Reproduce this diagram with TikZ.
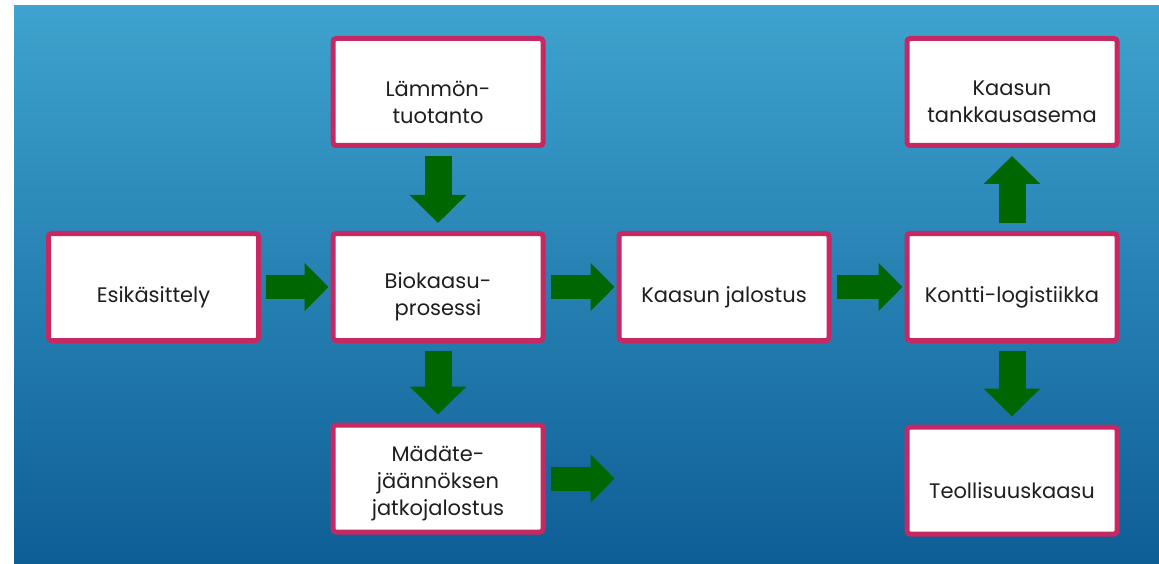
\documentclass[tikz,border=0pt]{standalone}
\usepackage{fontspec}
\setmainfont{Poppins}
\usetikzlibrary{arrows.meta}

\begin{document}
\begin{tikzpicture}[x=1pt, y=-1pt,
    every node/.style={font=\fontsize{21}{27}\selectfont, text=textgray},
    box/.style={draw=boxedge, fill=white, line width=5pt, rounded corners=3pt,
      minimum width=210pt, minimum height=107pt, inner sep=0pt},
    boxtext/.style={yshift=-10pt, align=center},
    flowh/.style={draw=flowgreen, line width=24pt, -{Triangle[length=24pt,width=47pt]},
      shorten <=5pt, shorten >=2pt},
    flowv/.style={draw=flowgreen, line width=27pt, -{Triangle[length=28pt,width=55pt]},
      shorten <=8pt, shorten >=8pt}]
  \definecolor{bgtop}{RGB}{62,163,206}
  \definecolor{bgbottom}{RGB}{14,94,150}
  \definecolor{boxedge}{RGB}{200,40,98}
  \definecolor{flowgreen}{RGB}{0,102,0}
  \definecolor{textgray}{RGB}{30,30,30}
  \useasboundingbox (0,0) rectangle (1159,564);
  \shade[top color=bgtop, bottom color=bgbottom] (14,6) rectangle (1159,564);
  % process chain
  \node[box, label={[boxtext]center:Esikäsittely}] (esik) at (153.5,287) {};
  \node[box, label={[boxtext]center:Biokaasu-\\prosessi}] (bio) at (438,287) {};
  \node[box, label={[boxtext]center:Lämmön-\\tuotanto}] (lammon) at (438,92) {};
  \node[box, label={[boxtext,yshift=5pt]center:Mädäte-\\jäännöksen\\jatkojalostus}] (madate) at (438,478.5) {};
  \node[box, label={[boxtext]center:Kaasun jalostus}] (jalostus) at (724,287) {};
  \node[box, label={[boxtext]center:Kontti-logistiikka}] (kontti) at (1012,287) {};
  \node[box, label={[boxtext]center:Kaasun\\tankkausasema}] (tankkaus) at (1012,92) {};
  \node[box, label={[boxtext]center:Teollisuuskaasu}] (teoll) at (1012,480.5) {};
  \coordinate (madend) at (madate.east -| jalostus.west);
  % flows
  \draw[flowh] (esik) -- (bio);
  \draw[flowh] (bio) -- (jalostus);
  \draw[flowh] (jalostus) -- (kontti);
  \draw[flowh] (madate) -- (madend);
  \draw[flowv] (lammon) -- (bio);
  \draw[flowv] (bio) -- (madate);
  \draw[flowv] (kontti) -- (tankkaus);
  \draw[flowv] (kontti) -- (teoll);
\end{tikzpicture}
\end{document}
